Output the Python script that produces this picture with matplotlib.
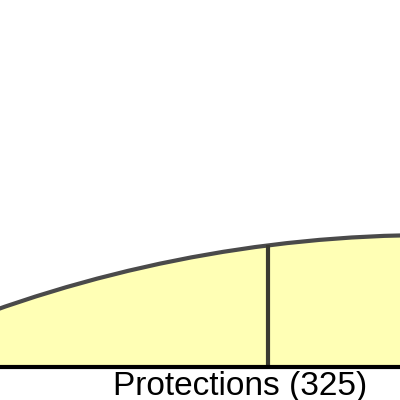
import numpy as np
import matplotlib.pyplot as plt
from matplotlib.patches import Circle, Rectangle

# region geometry (pixel space of the 400x400 canvas)
circle_center = (433, 1549)
circle_radius = 1314
divider_x = 268
baseline_y = 367
label = 'Protections (325)'
label_x = 240

fill_color = '#ffffb5'
edge_color = '#4a4a4a'

fig = plt.figure(figsize=(4, 4), dpi=100)
ax = fig.add_axes([0, 0, 1, 1])
ax.set_xlim(0, 400)
ax.set_ylim(400, 0)
ax.axis('off')

clip = Rectangle((-10, -10), 420, baseline_y + 10, transform=ax.transData)
circ = Circle(circle_center, circle_radius, facecolor=fill_color,
              edgecolor=edge_color, linewidth=3)
ax.add_patch(circ)
circ.set_clip_path(clip)

# divider from arc down to the baseline
cx, cy = circle_center
y_top = cy - np.sqrt(circle_radius**2 - (divider_x - cx)**2)
ax.plot([divider_x, divider_x], [y_top, baseline_y], color='#3a3a30', lw=3,
        solid_capstyle='butt')

ax.plot([0, 400], [baseline_y, baseline_y], color='black', lw=3,
        solid_capstyle='butt')

ax.text(label_x, 395, label, fontsize=24, family='Liberation Sans',
        ha='center', va='baseline', color='black')

fig.savefig('out.png', dpi=100)
